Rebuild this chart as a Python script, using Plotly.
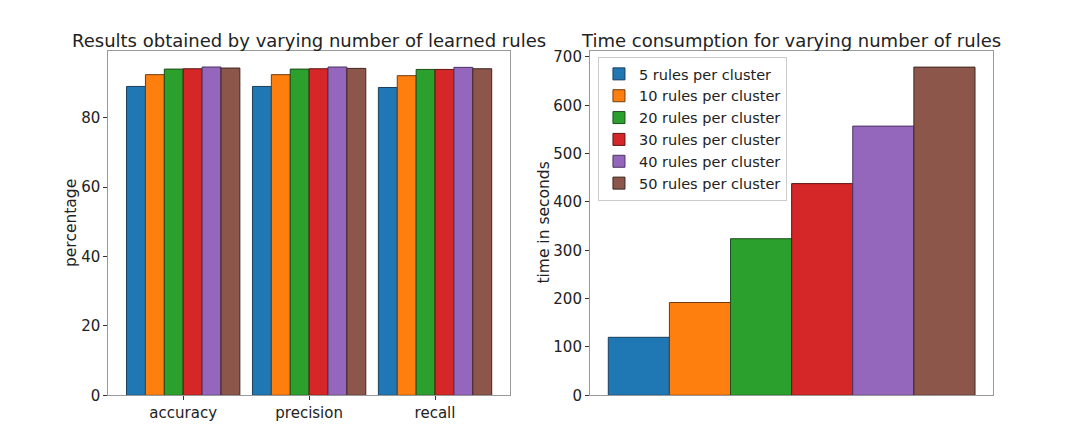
import plotly.graph_objects as go

# categories and series
metrics = ["accuracy", "precision", "recall"]
series_names = ["5 rules per cluster", "10 rules per cluster", "20 rules per cluster",
                "30 rules per cluster", "40 rules per cluster", "50 rules per cluster"]
colors = ["#1f77b4", "#ff7f0e", "#2ca02c", "#d62728", "#9467bd", "#8c564b"]
edges = ["#1a3f5e", "#6e3a10", "#1d4d1d", "#5e1515", "#4a3560", "#3e2620"]

# percentage per metric for each series
scores = [
    [89.0, 89.0, 88.7],
    [92.4, 92.4, 92.1],
    [94.0, 94.0, 93.9],
    [94.1, 94.1, 93.9],
    [94.6, 94.6, 94.5],
    [94.3, 94.2, 94.1],
]

# time in seconds per series
times = [120, 192, 324, 438, 557, 679]

FONT = "DejaVu Sans"

fig = go.Figure()

for i, name in enumerate(series_names):
    fig.add_trace(go.Bar(
        x=metrics, y=scores[i], name=name, showlegend=False,
        marker=dict(color=colors[i], line=dict(color=edges[i], width=1)),
        xaxis="x", yaxis="y", offsetgroup=str(i)))
    fig.add_trace(go.Bar(
        x=[""], y=[times[i]], name=name, showlegend=True,
        marker=dict(color=colors[i], line=dict(color=edges[i], width=1)),
        xaxis="x2", yaxis="y2", offsetgroup=str(i)))

axis_common = dict(showline=True, linecolor="#999999", linewidth=1, mirror=True,
                   showgrid=False, zeroline=False, ticks="outside", ticklen=4,
                   tickcolor="#333333", tickfont=dict(size=15, color="#222222"),
                   automargin=False)

# page body has an 8px margin, so the figure is a bit smaller than the window
fig.update_layout(
    width=1068, height=437,
    margin=dict(l=0, r=0, t=0, b=0),
    paper_bgcolor="white", plot_bgcolor="white",
    font=dict(family=FONT, color="#222222"),
    barmode="group", bargap=0.1, bargroupgap=0,
    xaxis=dict(domain=[0.0939, 0.470], range=[-0.595, 2.595], anchor="y", **axis_common),
    yaxis=dict(domain=[0.1137, 0.9023], range=[0, 99.3], dtick=20, anchor="x", **axis_common),
    xaxis2=dict(domain=[0.5449, 0.9226], range=[-0.495, 0.495], anchor="y2",
                **{**axis_common, "ticks": "", "showticklabels": False}),
    yaxis2=dict(domain=[0.1137, 0.9023], range=[0, 713], dtick=100, anchor="x2", **axis_common),
    legend=dict(x=0.5524, y=0.888, xanchor="left", yanchor="top",
                bgcolor="white", bordercolor="#cccccc", borderwidth=1,
                font=dict(size=14.5, color="#222222"), tracegroupgap=0),
    annotations=[
        dict(text="Results obtained by varying number of learned rules", x=0.2818, y=0.897,
             xref="paper", yref="paper", xanchor="center", yanchor="bottom",
             showarrow=False, font=dict(size=18)),
        dict(text="Time consumption for varying number of rules", x=0.7336, y=0.897,
             xref="paper", yref="paper", xanchor="center", yanchor="bottom",
             showarrow=False, font=dict(size=18)),
        dict(text="percentage", x=0.059, y=0.508, textangle=-90,
             xref="paper", yref="paper", xanchor="center", yanchor="middle",
             showarrow=False, font=dict(size=15.5)),
        dict(text="time in seconds", x=0.5015, y=0.508, textangle=-90,
             xref="paper", yref="paper", xanchor="center", yanchor="middle",
             showarrow=False, font=dict(size=15.5)),
    ],
)

fig.write_html("out.html")
